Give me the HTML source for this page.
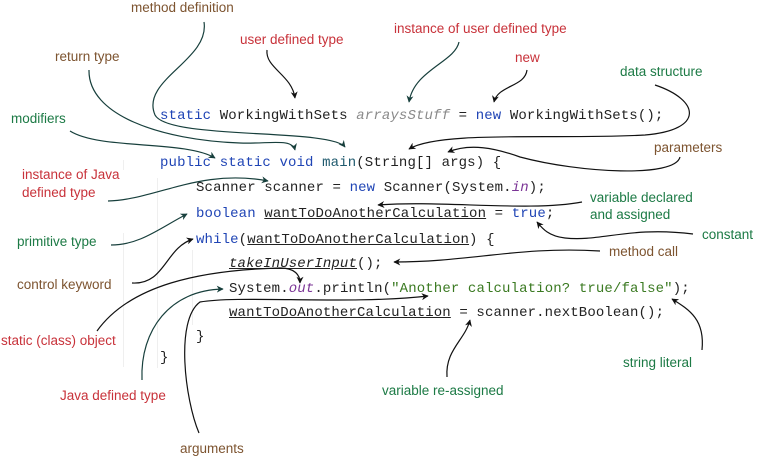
<!DOCTYPE html>
<html><head><meta charset="utf-8"><style>
html,body{margin:0;padding:0;background:#fff;}
#c{position:relative;width:759px;height:461px;overflow:hidden;background:#fff;}
.l{position:absolute;font-family:"Liberation Sans",Arial,sans-serif;font-size:13.5px;line-height:16px;white-space:nowrap;}
.r{color:#c8323a}.b{color:#7d5430}.g{color:#1c7a45}
.code{position:absolute;font-family:"Liberation Mono",monospace;font-size:14px;letter-spacing:0.13px;line-height:16px;white-space:pre;color:#222;}
.k{color:#1f44b5}.it{color:#8a8a8a;font-style:italic}.p{color:#7b3596;font-style:italic}.s{color:#3b7a22}.m{color:#1f5a6e}.u{text-decoration:underline}
.vl{position:absolute;width:1px;background:#efefef;}
svg{position:absolute;left:0;top:0;}
</style></head><body><div id="c">
<div class="vl" style="left:157px;top:178px;height:190px"></div>
<div class="vl" style="left:123px;top:160px;height:10px"></div>
<div class="vl" style="left:123px;top:233px;height:134px"></div>
<div class="vl" style="left:192px;top:250px;height:75px"></div>

<div class="code" style="left:160px;top:108px"><span class="k">static</span> WorkingWithSets <span class="it">arraysStuff</span> = <span class="k">new</span> WorkingWithSets();</div>
<div class="code" style="left:160px;top:155px"><span class="k">public static void</span> <span class="m">main</span>(String[] args) {</div>
<div class="code" style="left:196px;top:180px">Scanner scanner = <span class="k">new</span> Scanner(System.<span class="p">in</span>);</div>
<div class="code" style="left:196px;top:206px"><span class="k">boolean</span> <span class="u">wantToDoAnotherCalculation</span> = <span class="k">true</span>;</div>
<div class="code" style="left:196px;top:232px"><span class="k">while</span>(<span class="u">wantToDoAnotherCalculation</span>) {</div>
<div class="code" style="left:229px;top:256px"><span class="u" style="font-style:italic">takeInUserInput</span>();</div>
<div class="code" style="left:229px;top:281px">System.<span class="p">out</span>.println(<span class="s">"Another calculation? true/false"</span>);</div>
<div class="code" style="left:229px;top:305px"><span class="u">wantToDoAnotherCalculation</span> = scanner.nextBoolean();</div>
<div class="code" style="left:196px;top:329px">}</div>
<div class="code" style="left:160px;top:350px">}</div>

<div class="l b" style="left:131px;top:0px">method definition</div>
<div class="l r" style="left:240px;top:32px">user defined type</div>
<div class="l r" style="left:394px;top:21px">instance of user defined type</div>
<div class="l r" style="left:515px;top:50px">new</div>
<div class="l b" style="left:55px;top:49px">return type</div>
<div class="l g" style="left:620px;top:64px">data structure</div>
<div class="l g" style="left:11px;top:111px">modifiers</div>
<div class="l b" style="left:654px;top:140px">parameters</div>
<div class="l r" style="left:22px;top:167px">instance of Java</div>
<div class="l r" style="left:22px;top:185px">defined type</div>
<div class="l g" style="left:590px;top:190px">variable declared</div>
<div class="l g" style="left:590px;top:207px">and assigned</div>
<div class="l g" style="left:17px;top:234px">primitive type</div>
<div class="l g" style="left:702px;top:227px">constant</div>
<div class="l b" style="left:609px;top:244px">method call</div>
<div class="l b" style="left:17px;top:277px">control keyword</div>
<div class="l r" style="left:1px;top:333px">static (class) object</div>
<div class="l g" style="left:623px;top:355px">string literal</div>
<div class="l r" style="left:60px;top:388px">Java defined type</div>
<div class="l g" style="left:382px;top:383px">variable re-assigned</div>
<div class="l b" style="left:180px;top:441px">arguments</div>

<svg width="759" height="461" viewBox="0 0 759 461">
<defs>
<marker id="ak" viewBox="0 0 10 10" refX="9" refY="5" markerWidth="7" markerHeight="7" orient="auto-start-reverse" markerUnits="userSpaceOnUse"><path d="M0,0 L10,5 L0,10 L3,5 z" fill="#111"/></marker>
<marker id="at" viewBox="0 0 10 10" refX="9" refY="5" markerWidth="7" markerHeight="7" orient="auto-start-reverse" markerUnits="userSpaceOnUse"><path d="M0,0 L10,5 L0,10 L3,5 z" fill="#173f3c"/></marker>
</defs>
<g fill="none" stroke-width="1.2">
<path stroke="#173f3c" marker-end="url(#at)" d="M204,22 C210,60 140,80 155,115 C168,140 330,128 345,147"/>
<path stroke="#173f3c" marker-end="url(#at)" d="M89,70 C88,115 160,140 240,143 C270,144 292,138 295,150"/>
<path stroke="#173f3c" marker-end="url(#at)" d="M70,131 C100,150 185,140 215,158"/>
<path stroke="#111" marker-end="url(#ak)" d="M267,50 C265,68 292,75 295,98"/>
<path stroke="#173f3c" marker-end="url(#at)" d="M459,42 C455,62 414,70 409,102"/>
<path stroke="#111" marker-end="url(#ak)" d="M527,70 C525,87 498,85 494,102"/>
<path stroke="#111" marker-end="url(#ak)" d="M655,85 C700,100 705,130 645,135 C560,140 440,130 409,149"/>
<path stroke="#111" marker-end="url(#ak)" d="M680,157 C675,178 580,173 520,157 C495,148 470,143 448,152"/>
<path stroke="#173f3c" marker-end="url(#at)" d="M108,201 C155,200 200,168 268,181"/>
<path stroke="#111" marker-end="url(#ak)" d="M582,202 C530,212 440,200 378,205"/>
<path stroke="#173f3c" marker-end="url(#at)" d="M111,245 C140,245 160,228 187,214"/>
<path stroke="#111" marker-end="url(#ak)" d="M693,234 C630,226 600,242 565,238 C548,236 542,228 537,222"/>
<path stroke="#111" marker-end="url(#ak)" d="M600,251 C520,246 470,262 394,262"/>
<path stroke="#111" marker-end="url(#ak)" d="M132,283 C165,285 165,248 193,239"/>
<path stroke="#111" marker-end="url(#ak)" d="M97,331 C130,285 200,270 280,268 C295,268 300,275 300,283"/>
<path stroke="#173f3c" marker-end="url(#at)" d="M142,380 C140,330 170,290 223,289"/>
<path stroke="#111" marker-end="url(#ak)" d="M199,433 C185,400 175,320 200,302 C240,295 350,305 428,296"/>
<path stroke="#111" marker-end="url(#ak)" d="M447,377 C445,350 465,340 470,320"/>
<path stroke="#111" marker-end="url(#ak)" d="M702,350 C705,320 690,310 672,299"/>
</g>
</svg>
</div></body></html>
